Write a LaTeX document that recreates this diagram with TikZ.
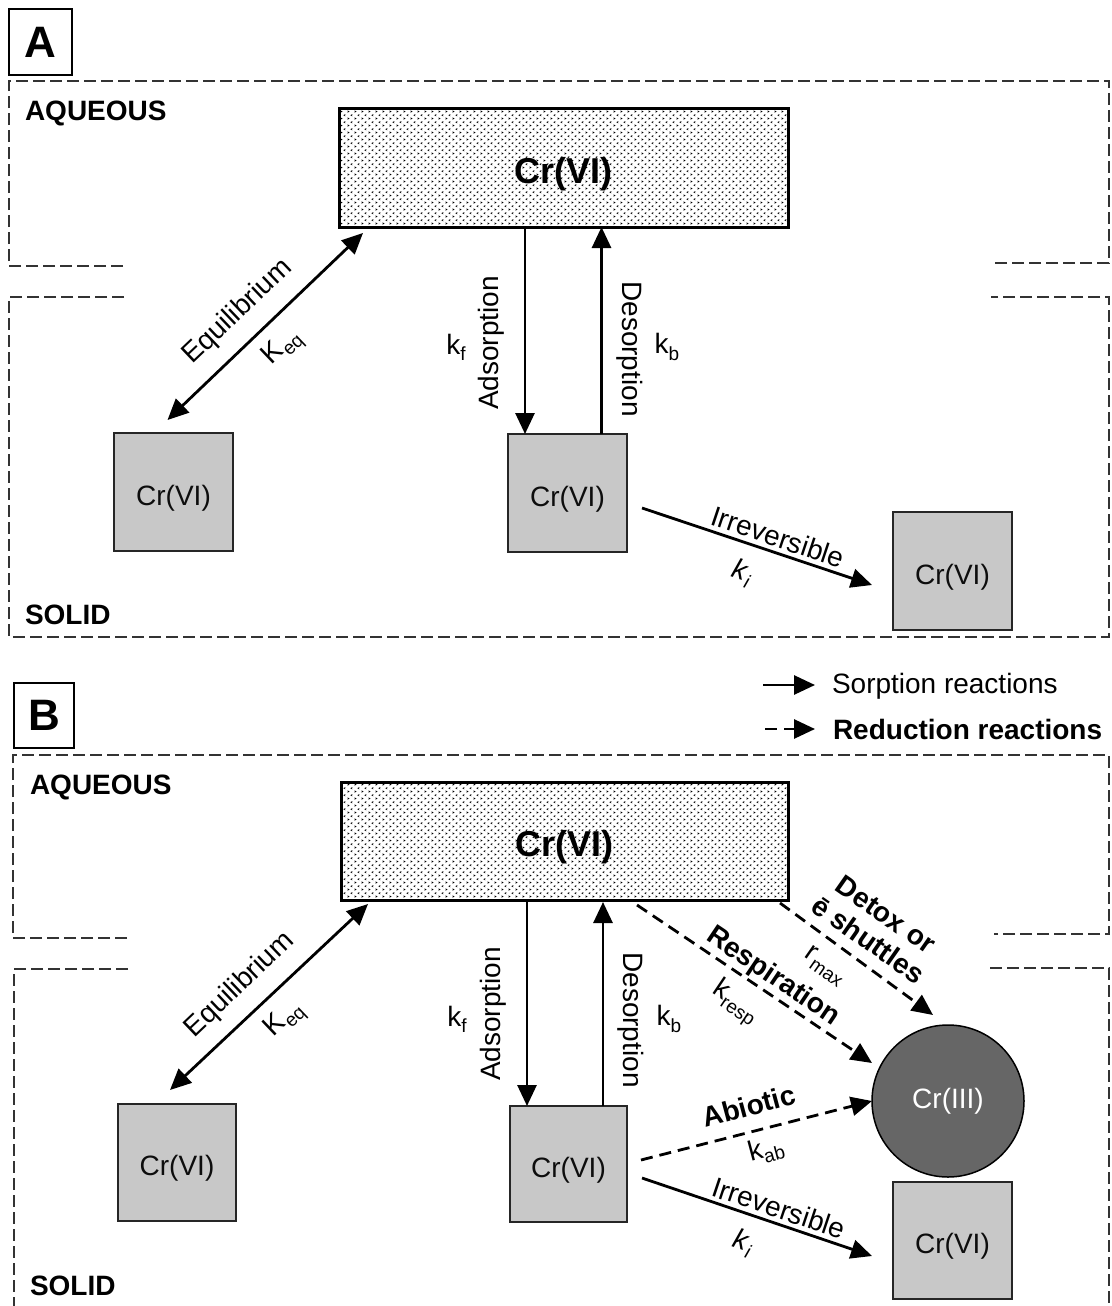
\documentclass[tikz,border=0pt]{standalone}
\usepackage{fontspec}
\setmainfont{Liberation Sans}
\usetikzlibrary{arrows.meta,calc,patterns.meta}
\definecolor{graybg}{HTML}{C8C8C8}
\definecolor{crdark}{HTML}{666666}
\tikzdeclarepattern{
  name=chev,
  type=uncolored,
  bounding box={(0pt,0pt) and (7.4pt,6.8pt)},
  tile size={(7.4pt,6.8pt)},
  code={
    \draw[line width=0.6pt] (0.6pt,0.7pt) -- (2.1pt,1.5pt) -- (0.6pt,2.3pt);
    \draw[line width=0.6pt] (5.7pt,4.1pt) -- (4.2pt,4.9pt) -- (5.7pt,5.7pt);
  }
}
\newcommand{\sbs}[1]{\raisebox{-0.22em}{\fontsize{19}{19}\selectfont #1}}
\begin{document}
\begin{tikzpicture}[x=1pt,y=-1pt,
  every node/.style={font=\fontsize{28}{32}\selectfont, inner sep=0pt, outer sep=0pt},
  region/.style={draw=black!80, line width=1.5pt, dash pattern=on 12pt off 5pt},
  panelbox/.style={draw, line width=1.5pt, minimum width=63pt, minimum height=66pt, font=\fontsize{44}{44}\selectfont\bfseries},
  phase/.style={anchor=west, font=\fontsize{28}{32}\selectfont\bfseries},
  bigbox/.style={draw, line width=3pt, pattern={chev}, minimum width=449pt, minimum height=119pt, font=\fontsize{36}{40}\selectfont\bfseries, text height=34pt, text depth=3pt},
  graybox/.style={draw=black!85, line width=1.5pt, fill=graybg, minimum width=119pt, minimum height=118pt, text=black!95, text height=28pt, text depth=2pt},
  crthree/.style={circle, draw, line width=1.5pt, fill=crdark, minimum size=152pt, text=white},
  sorp/.style={line width=2.8pt, -{Triangle[length=21pt,width=19pt]}},
  sorpdbl/.style={line width=2.8pt, {Triangle[length=21pt,width=19pt]}-{Triangle[length=21pt,width=19pt]}},
  redu/.style={sorp, dash pattern=on 12pt off 7pt},
  blbl/.style={font=\fontsize{28}{31}\selectfont\bfseries},
]
\useasboundingbox (0,0) rectangle (1111,1306);

% ---------------- regions ----------------
\draw[region] (123,266) -- (9,266) -- (9,81) -- (1109,81) -- (1109,263) -- (994,263);
\draw[region] (124,297) -- (9,297) -- (9,637) -- (1109,637) -- (1109,297) -- (991,297);
\draw[region] (127,938) -- (13,938) -- (13,755) -- (1109,755) -- (1109,934) -- (994,934);
\draw[region] (128,969) -- (14,969) -- (14,1306);
\draw[region] (990,968) -- (1109,968) -- (1109,1306);

% ---------------- panel A ----------------
\node[panelbox] (pA) at (40.5,42) {A};
\node[phase] (aqlA) at (25,113) {AQUEOUS};
\node[phase] (solA) at (25,615) {SOLID};

\node[bigbox] (aqA) at (563.5,167.5) {Cr(VI)};
\node[graybox] (l1A) at (173.5,492) {Cr(VI)};
\node[graybox] (m1A) at (567.5,493) {Cr(VI)};
\node[graybox] (r1A) at (952.5,571) {Cr(VI)};

\draw[sorpdbl] ($(l1A.north)+(-6,-13)$) -- ($(aqA.south west)+(24,6)$);
\draw[sorp] ($(aqA.south)+(-38.5,0)$) -- ($(m1A.north)+(-42.5,0)$);
\draw[sorp] ($(m1A.north)+(34,0)$) -- ($(aqA.south)+(38,0)$);
\draw[sorp] ($(m1A.east)+(15,15)$) -- ($(r1A.west)+(-21,14)$);

\node[rotate=43.6] (eqA) at (238,312) {Equilibrium};
\node[rotate=43.6] (keqA) at (283,348) {K\sbs{eq}};
\node[rotate=90] (adA) at (491,343) {Adsorption};
\node (kfA) at (456,347) {k\sbs{f}};
\node[rotate=-90] (deA) at (630,349) {Desorption};
\node (kbA) at (667,347) {k\sbs{b}};
\node[rotate=-18.5] (irA) at (778,537) {Irreversible};
\node[rotate=-18.5] (kiA) at (742,573) {\textit{k}\sbs{\textit{i}}};

% ---------------- panel B ----------------
\node[panelbox, minimum width=60pt, minimum height=65pt] (pB) at (44,715.5) {B};
\node[phase] (aqlB) at (30,787) {AQUEOUS};
\node[phase] (solB) at (30,1286) {SOLID};

\node[bigbox, minimum width=447pt, minimum height=118pt] (aqB) at (564.5,841) {Cr(VI)};
\node[graybox, minimum width=118pt, minimum height=117pt] (l1B) at (177,1162.5) {Cr(VI)};
\node[graybox, minimum width=117pt, minimum height=116pt] (m1B) at (568.5,1164) {Cr(VI)};
\node[graybox, minimum height=117pt] (r1B) at (952.5,1240.5) {Cr(VI)};
\node[crthree] (c3) at (948,1101) {Cr(III)};

\draw[sorpdbl] ($(l1B.north)+(-7,-14)$) -- ($(aqB.south west)+(27,4)$);
\draw[sorp] ($(aqB.south)+(-37.5,0)$) -- ($(m1B.north)+(-41.5,0)$);
\draw[sorp] ($(m1B.north)+(34.5,0)$) -- ($(aqB.south)+(38.5,2)$);
\draw[sorp] ($(m1B.east)+(15,14)$) -- ($(r1B.west)+(-21,15.5)$);
\draw[redu] ($(m1B.east)+(14,-4)$) -- (c3.west);
\draw[redu] ($(aqB.south east)+(-151,5)$) -- ($(c3.center)+(-76,-38)$);
\draw[redu] ($(aqB.south east)+(-8,3)$) -- ($(c3.center)+(-15,-86)$);

\node[rotate=43.6] (eqB) at (240,985) {Equilibrium};
\node[rotate=43.6] (keqB) at (285,1020) {K\sbs{eq}};
\node[rotate=90] (adB) at (493,1014) {Adsorption};
\node (kfB) at (457,1019) {k\sbs{f}};
\node[rotate=-90] (deB) at (631,1020) {Desorption};
\node (kbB) at (669,1019) {k\sbs{b}};
\node[rotate=-18.5] (irB) at (779,1208) {Irreversible};
\node[rotate=-18.5] (kiB) at (743,1243) {\textit{k}\sbs{\textit{i}}};

\node[blbl, rotate=15] (abB) at (749,1106) {Abiotic};
\node[rotate=15] (kabB) at (766,1150) {k\sbs{ab}};
\node[blbl, rotate=-34] (reB) at (773,977) {Respiration};
\node[rotate=-34] (kreB) at (735,1003) {k\sbs{resp}};
\node[blbl, rotate=-35, align=center] (dtB) at (877,927) {Detox or\\ē shuttles};
\node[rotate=-35] (rmB) at (825,966) {r\sbs{max}};

% ---------------- legend ----------------
\node[anchor=west] (lg1) at (832,686) {Sorption reactions};
\node[anchor=west, font=\fontsize{28}{32}\selectfont\bfseries] (lg2) at (833,729) {Reduction reactions};
\coordinate (lg1s) at (763,685);
\coordinate (lg2s) at (765,729);
\draw[sorp] (lg1s) -- ($(lg1.west)+(-17,-1)$);
\draw[redu] (lg2s) -- ($(lg2.west)+(-18,0)$);
\end{tikzpicture}
\end{document}
